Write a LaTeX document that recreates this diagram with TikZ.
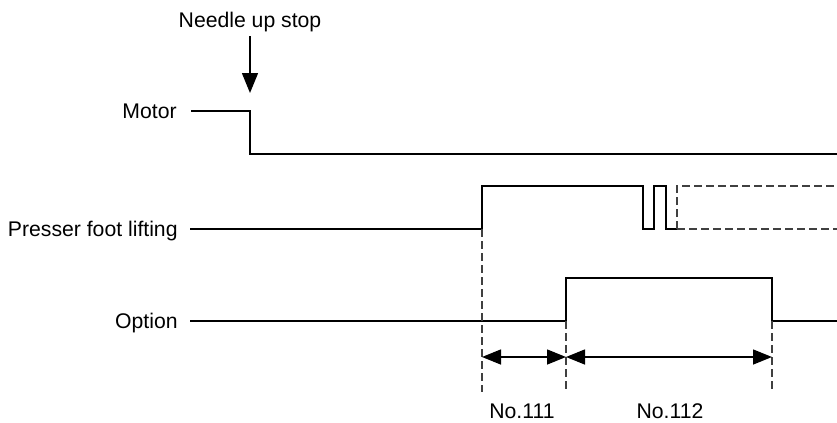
\documentclass[tikz,border=0pt]{standalone}
\usepackage{fontspec}
\setmainfont{Liberation Sans}
\usetikzlibrary{arrows.meta}

\begin{document}
\begin{tikzpicture}[x=0.5pt, y=-0.5pt, font=\fontsize{10.6}{12}\selectfont,
    sig/.style={line width=1.4pt, line join=miter},
    guide/.style={black!75, line width=0.75pt, dash pattern=on 4pt off 2pt},
    arr/.style={-{Triangle[length=10pt, width=8pt]}, line width=0.75pt},
    dim/.style={{Triangle[length=9.5pt, width=7.5pt]}-{Triangle[length=9.5pt, width=7.5pt]}, line width=0.75pt},
    lab/.style={anchor=base east, inner sep=0pt}]
    \useasboundingbox (0,0) rectangle (837,423);
    \node[anchor=base, inner sep=2.25pt] (needle) at (250,27) {Needle up stop};
    \node[lab] (motor)   at (177,118.5) {Motor};
    \node[lab] (presser) at (178,236.5) {Presser foot lifting};
    \node[lab] (option)  at (178,328.5) {Option};
    \coordinate (stop) at (250,93);
    \coordinate (t1) at (482,357);
    \coordinate (t2) at (566,357);
    \coordinate (t3) at (772,357);
    \node[anchor=base] (n111) at (522,418) {No.111};
    \node[anchor=base] (n112) at (670,418) {No.112};
    \draw[arr] (needle.south) -- (stop);
    \draw[sig] (191,111) -- (250,111) -- (250,154) -- (837,154);
    \draw[sig] (190,229) -- (482,229) -- (482,186) -- (643,186) -- (643,229)
        -- (654,229) -- (654,186) -- (666,186) -- (666,229) -- (677,229);
    \draw[guide] (677,229) -- (677,186) -- (837,186);
    \draw[guide] (677,229) -- (837,229);
    \draw[sig] (190,321) -- (566,321) -- (566,278) -- (772,278) -- (772,321) -- (837,321);
    \draw[guide] (482,229) -- (482,392);
    \draw[guide] (566,321) -- (566,392);
    \draw[guide] (772,321) -- (772,392);
    \draw[dim] (t1) -- (t2);
    \draw[dim] (t2) -- (t3);
  \end{tikzpicture}
\end{document}
